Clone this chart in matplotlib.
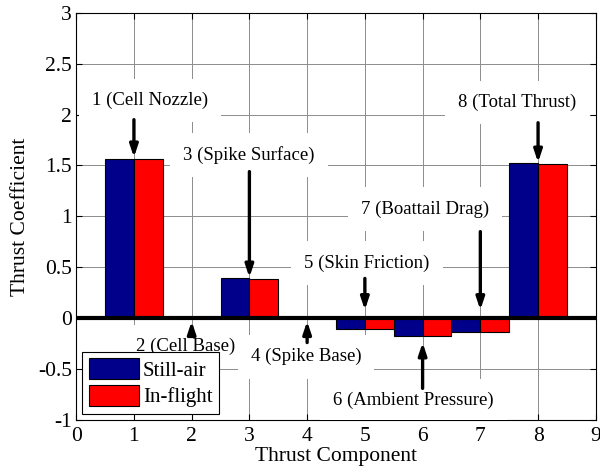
import matplotlib
matplotlib.use("Agg")
import matplotlib.pyplot as plt
import numpy as np

plt.rcParams['font.family'] = ['Liberation Serif', 'DejaVu Serif']
plt.rcParams['axes.unicode_minus'] = False

components = [1, 2, 3, 4, 5, 6, 7, 8]
still_air = [1.56, 0.0, 0.39, 0.005, -0.11, -0.18, -0.14, 1.52]
in_flight = [1.56, 0.0, 0.38, 0.01, -0.11, -0.18, -0.14, 1.51]
component_names = ["1 (Cell Nozzle)", "2 (Cell Base)", "3 (Spike Surface)", "4 (Spike Base)",
                   "5 (Skin Friction)", "6 (Ambient Pressure)", "7 (Boattail Drag)",
                   "8 (Total Thrust)"]
x_ticks = list(range(0, 10))
y_ticks = [-1, -0.5, 0, 0.5, 1, 1.5, 2, 2.5, 3]
y_tick_labels = ["-1", "-0.5", "0", "0.5", "1", "1.5", "2", "2.5", "3"]

fig = plt.figure(figsize=(6.0, 4.75), dpi=100)
ax = fig.add_axes([0.127, 0.116, 0.866, 0.857])

x = np.array(components, dtype=float)
w = 0.5
ax.bar(x - w / 2, still_air, width=w, color='#00008B', edgecolor='black', linewidth=0.8,
       label='Still-air', zorder=3)
ax.bar(x + w / 2, in_flight, width=w, color='#FF0000', edgecolor='black', linewidth=0.8,
       label='In-flight', zorder=3)
ax.axhline(0, color='black', linewidth=3, zorder=4)

ax.set_xlim(0, 9)
ax.set_ylim(-1, 3)
ax.set_xticks(x_ticks)
ax.set_yticks(y_ticks)
ax.set_yticklabels(y_tick_labels)
ax.grid(True, color='#8c8c8c', linewidth=0.7, zorder=0)
ax.set_axisbelow(True)
ax.tick_params(direction='in', top=True, right=True, labelsize=15.5, length=4, width=0.8)
ax.tick_params(axis='x', pad=5)
ax.tick_params(axis='y', pad=3)
for s in ax.spines.values():
    s.set_linewidth(0.8)
ax.set_xlabel("Thrust Component", fontsize=15.5, labelpad=1)
ax.set_ylabel("Thrust Coefficient", fontsize=15.5, labelpad=6)

# callout labels: (text x, text y, arrow tail y, arrow head y)
callouts = [
    (1.28, 2.14, 1.95, 1.58),
    (1.90, -0.28, -0.17, -0.03),
    (2.99, 1.60, 1.44, 0.40),
    (3.98, -0.38, -0.24, -0.03),
    (5.04, 0.54, 0.39, 0.08),
    (5.84, -0.81, -0.69, -0.24),
    (6.04, 1.07, 0.85, 0.08),
    (7.64, 2.12, 1.92, 1.53),
]
for comp, name, (tx, ty, tail, head) in zip(components, component_names, callouts):
    ax.text(tx, ty, name, fontsize=13.5, ha='center', va='center', zorder=5, clip_on=True,
            bbox=dict(boxstyle='square,pad=0.7', facecolor='white', edgecolor='none'))
    ax.annotate('', xy=(comp, head), xytext=(comp, tail), zorder=6,
                arrowprops=dict(arrowstyle='-|>,head_length=0.6,head_width=0.2',
                                color='black', lw=2.4, shrinkA=0, shrinkB=0,
                                mutation_scale=12))

leg = ax.legend(loc='lower left', fontsize=15, frameon=True, fancybox=False,
                edgecolor='black', framealpha=1, handlelength=2.4, handleheight=1.15,
                borderpad=0.3, labelspacing=0.2, handletextpad=0.2,
                borderaxespad=0.3)
leg.get_frame().set_linewidth(0.8)
leg.set_zorder(7)

fig.savefig("out.png", dpi=100)
